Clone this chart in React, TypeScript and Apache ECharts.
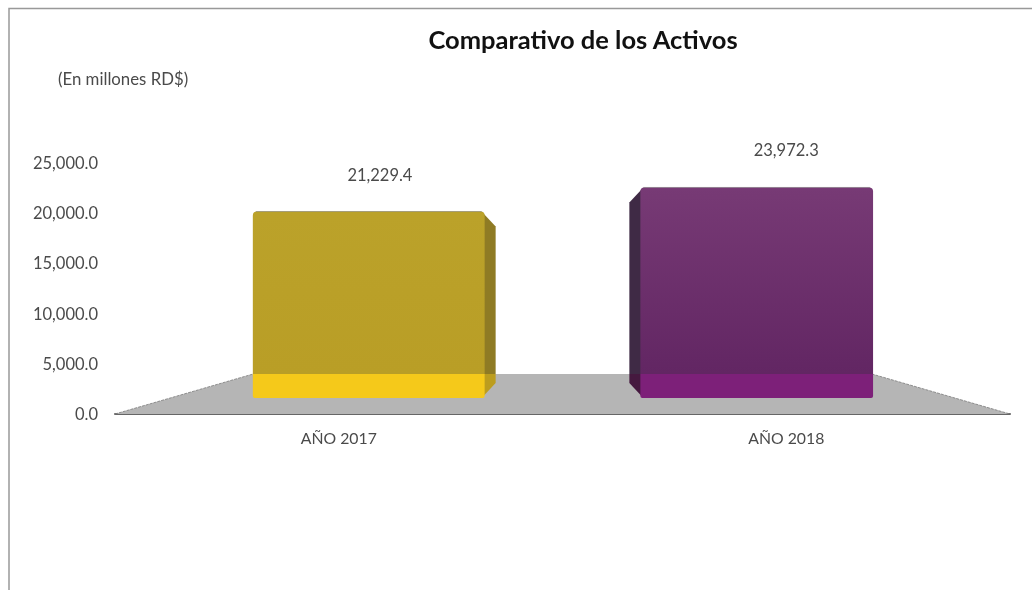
import React, { useEffect, useRef } from "react";
import * as echarts from "echarts";

const categories = ["AÑO 2017", "AÑO 2018"];
const activos = [21229.4, 23972.3];
const yTicksMax = 25000;
const yTickStep = 5000;
const chartTitle = "Comparativo de los Activos";
const unitNote = "(En millones RD$)";

// Excel-style 3D projection of the value onto the flat axis
const floorFront = 1590;
const floorBack = 3990;
const depthScale = 0.875;

const fmt = (v: number) =>
  v.toLocaleString("en-US", { minimumFractionDigits: 1, maximumFractionDigits: 1 });

const looks = [
  { top: "#BBA22A", bottom: "#B99E26", strip: "#F5C91A", side: "#8F7B24", sideStrip: "#BC9D1E", l: -0.192, r: 0.326, s: 0.0246, lx: 0.092 },
  { top: "#773A75", bottom: "#622663", strip: "#7D2079", side: "#3F2A45", sideStrip: "#45193F", l: -0.326, r: 0.194, s: -0.0246, lx: 0 },
];

function renderFloor(params: any, api: any) {
  const cs = params.coordSys;
  const y0 = api.coord([0, 0])[1];
  const yb = api.coord([0, floorBack])[1];
  const left = cs.x + cs.width * 0.1545;
  const right = cs.x + cs.width * 0.8455;
  const pts = [[cs.x, y0], [left, yb], [right, yb], [cs.x + cs.width, y0]];
  return {
    type: "group",
    children: [
      { type: "polygon", shape: { points: pts }, style: { fill: "#B5B5B5" } },
      { type: "line", shape: { x1: pts[0][0], y1: pts[0][1], x2: pts[1][0], y2: pts[1][1] }, style: { stroke: "#7A7A7A", lineWidth: 0.8, lineDash: [3, 1] } },
      { type: "line", shape: { x1: pts[2][0], y1: pts[2][1], x2: pts[3][0], y2: pts[3][1] }, style: { stroke: "#7A7A7A", lineWidth: 0.8, lineDash: [3, 1] } },
    ],
  };
}

function renderBar(params: any, api: any) {
  const i = api.value(0);
  const v = api.value(1);
  const look = looks[i];
  const cx = api.coord([i, 0])[0];
  const band = api.size([1, 0])[0];
  const top = api.coord([i, floorFront + depthScale * v])[1];
  const bottom = api.coord([i, floorFront])[1];
  const back = api.coord([i, floorBack])[1];
  const x1 = cx + band * look.l;
  const x2 = cx + band * look.r;
  const edge = look.s > 0 ? x2 : x1;
  const outer = edge + band * look.s;
  const inset = look.s > 0 ? -3 : 3;
  const sideTop = top + 15;
  const sideBot = bottom - 15;
  return {
    type: "group",
    children: [
      {
        type: "polygon",
        shape: { points: [[edge + inset, top], [outer, sideTop], [outer, back], [edge + inset, back]] },
        style: { fill: look.side },
      },
      {
        type: "polygon",
        shape: { points: [[edge + inset, back], [outer, back], [outer, sideBot], [edge + inset, bottom]] },
        style: { fill: look.sideStrip },
      },
      {
        type: "rect",
        shape: { x: x1, y: top, width: x2 - x1, height: back - top, r: [4, 4, 0, 0] },
        style: {
          fill: new echarts.graphic.LinearGradient(0, 0, 0, 1, [
            { offset: 0, color: look.top },
            { offset: 1, color: look.bottom },
          ]),
        },
      },
      {
        type: "line",
        shape: { x1: x1 + 3, y1: top, x2: x2 - 3, y2: top },
        style: { stroke: "rgba(90,90,90,0.55)", lineWidth: 0.8 },
      },
      {
        type: "rect",
        shape: { x: x1, y: back, width: x2 - x1, height: bottom - back, r: [0, 0, 2, 2] },
        style: { fill: look.strip },
      },
      {
        type: "text",
        style: {
          x: cx + band * look.lx,
          y: top - 37,
          text: fmt(v),
          textAlign: "center",
          textVerticalAlign: "middle",
          fill: "#4A4A4A",
          font: "16.5px Lato",
        },
      },
    ],
  };
}

export default function App() {
  const ref = useRef<HTMLDivElement>(null);
  useEffect(() => {
    document.body.style.margin = "0";
    const chart = echarts.init(ref.current!, null, { renderer: "svg" });
    chart.setOption({
      animation: false,
      backgroundColor: "#FFFFFF",
      title: [
        {
          text: chartTitle,
          left: 578,
          top: 21,
          textAlign: "center",
          textStyle: { fontFamily: "Lato", fontWeight: "bold", fontSize: 25.5, color: "#111111" },
        },
        {
          text: unitNote,
          left: 53,
          top: 65,
          textStyle: { fontFamily: "Lato", fontWeight: "normal", fontSize: 16.8, color: "#4A4A4A" },
        },
      ],
      grid: { left: 115, right: 22, top: 163, bottom: 176, containLabel: false },
      xAxis: {
        type: "category",
        data: categories,
        axisTick: { show: false },
        axisLine: { lineStyle: { color: "#666666", width: 2 } },
        axisLabel: { color: "#4A4A4A", fontFamily: "Lato", fontSize: 15.8, margin: 15 },
      },
      yAxis: {
        type: "value",
        min: 0,
        max: yTicksMax,
        interval: yTickStep,
        axisLine: { show: false },
        axisTick: { show: false },
        splitLine: { show: false },
        axisLabel: { color: "#4A4A4A", fontFamily: "Lato", fontSize: 16.5, margin: 17, formatter: (v: number) => fmt(v) },
      },
      graphic: [
        {
          type: "polyline",
          shape: { points: [[9, 590], [9, 8.5], [1032, 8.5]] },
          style: { stroke: "#999999", fill: "none", lineWidth: 1.5 },
          silent: true,
        },
      ],
      series: [
        { type: "custom", z: 1, data: [[0]], renderItem: renderFloor, clip: false, silent: true, encode: { x: 0 } },
        {
          type: "custom",
          z: 3,
          data: activos.map((v, i) => [i, v]),
          renderItem: renderBar,
          clip: false,
          silent: true,
          encode: { x: 0, y: 1 },
        },
      ],
    });
    return () => chart.dispose();
  }, []);
  return <div ref={ref} style={{ width: 1032, height: 590, position: "absolute", left: 0, top: 0, filter: "blur(0.6px)" }} />;
}
